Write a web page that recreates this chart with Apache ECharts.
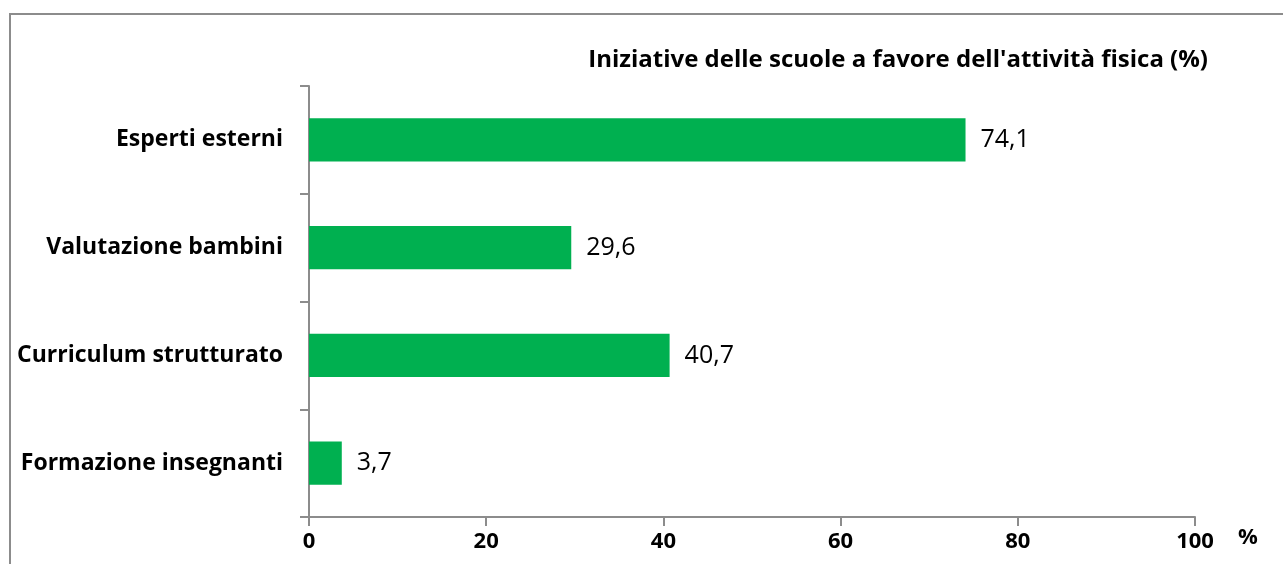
<!DOCTYPE html>
<html><head><meta charset="utf-8">
<script src="https://cdn.jsdelivr.net/npm/echarts@6/dist/echarts.min.js"></script>
<style>html,body{margin:0;padding:0;background:#fff}#c{width:1283px;height:564px}</style>
</head><body><div id="c"></div>
<script>
const categories = ['Formazione insegnanti', 'Curriculum strutturato', 'Valutazione bambini', 'Esperti esterni'];
const values = [3.7, 40.7, 29.6, 74.1];
const xTicks = [0, 20, 40, 60, 80, 100];
const titleText = "Iniziative delle scuole a favore dell'attività fisica (%)";
const FONT = 'Open Sans';
const chart = echarts.init(document.getElementById('c'), null, {renderer: 'canvas'});
chart.setOption({
  animation: false,
  title: {
    text: titleText, right: 70, top: 42,
    textStyle: {fontFamily: FONT, fontWeight: 'bold', fontSize: 24, color: '#000', lineHeight: 26}
  },
  graphic: [{
    type: 'rect', shape: {x: 10, y: 14, width: 1290, height: 600},
    style: {fill: 'none', stroke: '#8c8c8c', lineWidth: 2}, silent: true
  }, {
    type: 'text', left: 1238, top: 527,
    style: {text: '%', fontFamily: FONT, fontWeight: 'bold', fontSize: 22, fill: '#000'}
  }],
  grid: {left: 309, right: 88, top: 86, bottom: 47, containLabel: false},
  xAxis: {
    type: 'value', min: xTicks[0], max: xTicks[xTicks.length - 1], interval: 20,
    splitLine: {show: false},
    axisLine: {show: true, lineStyle: {color: '#8c8c8c', width: 2}},
    axisTick: {show: true, inside: false, length: 9, lineStyle: {color: '#8c8c8c', width: 2}},
    axisLabel: {fontFamily: FONT, fontWeight: 'bold', fontSize: 22, color: '#000', margin: 14}
  },
  yAxis: {
    type: 'category', data: categories,
    axisLine: {show: true, lineStyle: {color: '#8c8c8c', width: 2}},
    axisTick: {show: true, inside: false, length: 9, lineStyle: {color: '#8c8c8c', width: 2}},
    axisLabel: {fontFamily: FONT, fontWeight: 'bold', fontSize: 23, color: '#000', margin: 26}
  },
  series: [{
    type: 'bar', data: values, barCategoryGap: '60%',
    itemStyle: {color: '#00b050'},
    label: {
      show: true, position: 'right', distance: 15,
      fontFamily: FONT, fontSize: 25, color: '#000',
      formatter: p => String(p.value).replace('.', ',')
    }
  }]
});
</script></body></html>
